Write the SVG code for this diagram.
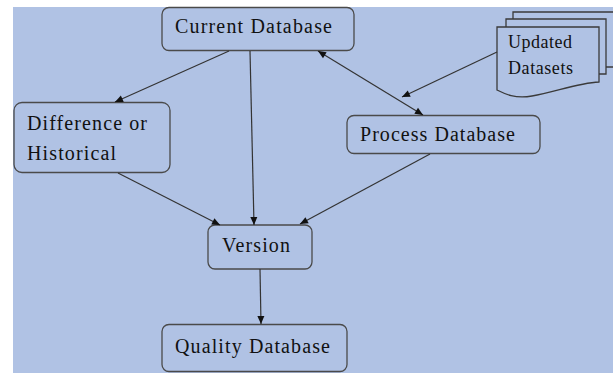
<svg xmlns="http://www.w3.org/2000/svg" width="613" height="373" viewBox="0 0 613 373">
  <defs>
    <marker id="arrow" markerUnits="userSpaceOnUse" markerWidth="10" markerHeight="10" viewBox="0 0 10 10" refX="9" refY="5" orient="auto-start-reverse">
      <path d="M1,1.5 L9,5 L1,8.5 Z" fill="#111"/>
    </marker>
    <style>
      .box { fill: #b0c2e4; stroke: #4a4a4a; stroke-width: 1.3; }
      .doc { fill: #b0c2e4; stroke: #3a3a3a; stroke-width: 1.3; }
      .lbl { font-family: "Liberation Serif", "Times New Roman", serif; font-size: 20px; fill: #111; }
      .small { font-size: 18px; }
      .edge { fill: none; stroke: #333; stroke-width: 1.2; marker-end: url(#arrow); }
    </style>
  </defs>

  <!-- canvas -->
  <rect x="13" y="7" width="600" height="366" fill="#b0c2e4"/>

  <g id="current-database">
    <rect class="box" x="162" y="7.5" width="192" height="43" rx="7"/>
    <text class="lbl" x="175" y="33" textLength="157" lengthAdjust="spacing">Current Database</text>
  </g>

  <g id="difference-or-historical">
    <rect class="box" x="14" y="102.5" width="156" height="70" rx="8"/>
    <text class="lbl" x="27" y="130" textLength="120" lengthAdjust="spacing">Difference or</text>
    <text class="lbl" x="27" y="160" textLength="89" lengthAdjust="spacing">Historical</text>
  </g>

  <g id="process-database">
    <rect class="box" x="347" y="115.5" width="193" height="38" rx="7"/>
    <text class="lbl" x="360" y="141" textLength="155" lengthAdjust="spacing">Process Database</text>
  </g>

  <g id="version">
    <rect class="box" x="208" y="225" width="104" height="44" rx="7"/>
    <text class="lbl" x="222" y="252" textLength="68" lengthAdjust="spacing">Version</text>
  </g>

  <g id="quality-database">
    <rect class="box" x="162" y="324.5" width="185" height="47" rx="7"/>
    <text class="lbl" x="175" y="353" textLength="155" lengthAdjust="spacing">Quality Database</text>
  </g>

  <g id="updated-datasets">
    <!-- stacked pages behind -->
    <path class="doc" d="M513,19 V12 H620 V67 H606"/>
    <path class="doc" d="M506,27 V19 H606 V74 H599"/>
    <!-- front page with wavy bottom edge -->
    <path class="doc" d="M497,27 H599 V82 C578,83 555,92 532,96 C515,99 505,94 497,90 Z"/>
    <text class="lbl small" x="508" y="48" textLength="64" lengthAdjust="spacing">Updated</text>
    <text class="lbl small" x="508" y="74" textLength="65" lengthAdjust="spacing">Datasets</text>
  </g>

  <g id="connectors">
    <line class="edge" x1="229" y1="51" x2="115" y2="102"/>
    <line class="edge" x1="250" y1="51" x2="254" y2="225"/>
    <line class="edge" x1="318" y1="51" x2="423" y2="115" style="marker-start: url(#arrow)"/>
    <line class="edge" x1="497" y1="52" x2="402" y2="97"/>
    <line class="edge" x1="118" y1="173" x2="220" y2="225"/>
    <line class="edge" x1="430" y1="154" x2="300" y2="224"/>
    <line class="edge" x1="260" y1="269" x2="261" y2="324"/>
  </g>
</svg>
